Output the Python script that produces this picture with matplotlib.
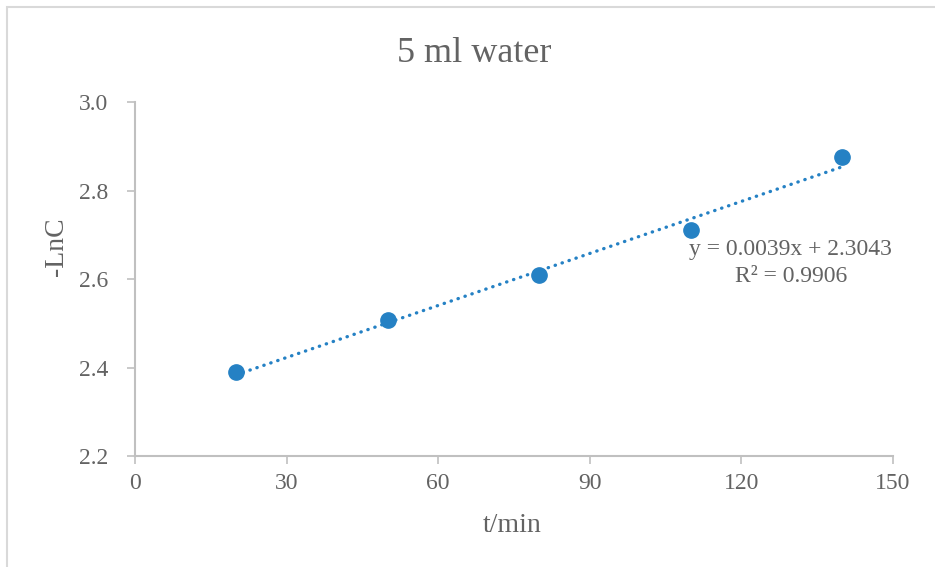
import numpy as np
import matplotlib.pyplot as plt
from matplotlib.patches import Rectangle

# ---------- data ----------
t_min = [20, 50, 80, 110, 140]
neg_lnC = [2.390, 2.507, 2.609, 2.711, 2.876]
x_ticks = [0, 30, 60, 90, 120, 150]
y_ticks = [2.2, 2.4, 2.6, 2.8, 3.0]
title = '5 ml water'
eq_line1 = 'y = 0.0039x + 2.3043'
eq_line2 = 'R² = 0.9906'

grey = '#636363'
axis_grey = '#c0c0c0'
blue = '#2581c4'

plt.rcParams['font.family'] = ['Liberation Serif', 'DejaVu Serif']

W, H = 935, 567
fig = plt.figure(figsize=(W / 100, H / 100), dpi=100)
ax = fig.add_axes([135/W, 1 - 456/H, (893-135)/W, (456-102)/H])

# outer chart border
fig.patches.append(Rectangle((7/W, -0.01), 1.0, 1 - 7/H + 0.01,
                             transform=fig.transFigure, fill=False,
                             edgecolor='#d9d9d9', lw=1.5))

# points
ax.plot(t_min, neg_lnC, 'o', color=blue, ms=11, zorder=3)

# linear trendline
k, b = np.polyfit(t_min, neg_lnC, 1)
xs = np.array([t_min[0], t_min[-1]])
ax.plot(xs, k * xs + b, color=blue, lw=2.4,
        linestyle=(0, (0.1, 2.1)), dash_capstyle='round', zorder=2)

ax.text(129.8, 2.654, eq_line1, ha='center', va='baseline',
        fontsize=17, color=grey)
ax.text(129.8, 2.593, eq_line2, ha='center', va='baseline',
        fontsize=17, color=grey)

# ---------- axes ----------
ax.set_xlim(0, 150); ax.set_ylim(2.2, 3.0)
ax.set_xticks(x_ticks)
ax.set_yticks(y_ticks)
ax.set_yticklabels([f'{v:.1f}' for v in y_ticks])
for s in ['top', 'right']:
    ax.spines[s].set_visible(False)
for s in ['left', 'bottom']:
    ax.spines[s].set_color(axis_grey)
    ax.spines[s].set_linewidth(1.5)
ax.tick_params(colors=axis_grey, labelcolor=grey, labelsize=17,
               length=6, width=1.2)
ax.tick_params(axis='x', pad=6)
ax.tick_params(axis='y', pad=13)

fig.text(512/W, 1 - 532/H, 't/min', ha='center', va='baseline',
         fontsize=20, color=grey)
fig.text(57/W, 1 - 247/H, '-LnC', ha='center', va='center',
         rotation=90, fontsize=20, color=grey)
fig.text(474/W, 1 - 62/H, title, ha='center', va='baseline',
         fontsize=26, color=grey)

fig.savefig('out.png', dpi=100)
